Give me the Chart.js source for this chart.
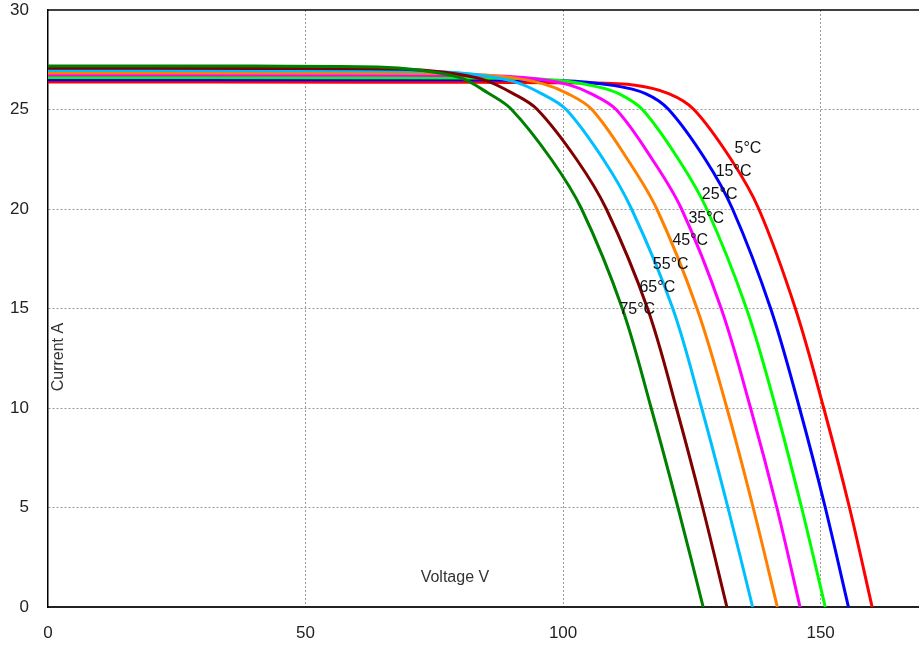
<!DOCTYPE html>
<html>
<head>
<meta charset="utf-8">
<script src="https://cdn.jsdelivr.net/npm/chart.js@4.4.1/dist/chart.umd.min.js"></script>
<style>
  body { margin: 0; background: #fff; }
  #wrap { width: 919px; height: 645px; }
</style>
</head>
<body>
<div id="wrap"><canvas id="chart"></canvas></div>
<script>
// I-V curves, one per module temperature
const temps = ["5°C", "15°C", "25°C", "35°C", "45°C", "55°C", "65°C", "75°C"];
const colors = ["#ff0000", "#0000ff", "#00ff00", "#ff00ff", "#ff8000", "#00bfff", "#800000", "#008000"];

const v05 = [0, 60, 105, 114, 120.5, 125.4, 132.6, 138.0, 145.1, 150.6, 155.6, 160.0];
const i05 = [26.38, 26.37, 26.33, 26.22, 25.8, 25.0, 22.5, 20, 15, 10, 5, 0];
const v15 = [0, 60, 100, 110, 116, 120.5, 127.6, 132.9, 140.3, 145.9, 150.9, 155.4];
const i15 = [26.50, 26.49, 26.45, 26.2, 25.8, 25.0, 22.5, 20, 15, 10, 5, 0];
const v25 = [0, 60, 93, 101, 106.5, 110.8, 115.4, 122.4, 127.9, 135.6, 141.3, 146.3, 150.9];
const i25 = [26.61, 26.60, 26.56, 26.41, 26.15, 25.8, 25.0, 22.5, 20, 15, 10, 5, 0];
const v35 = [0, 55, 87, 95, 101, 105.4, 110.3, 117.3, 123.0, 130.7, 136.4, 141.5, 146.0];
const i35 = [26.73, 26.72, 26.68, 26.53, 26.25, 25.8, 25.0, 22.5, 20, 15, 10, 5, 0];
const v45 = [0, 50, 81, 89, 96, 100.9, 105.6, 112.5, 118.2, 126.0, 131.8, 136.9, 141.6];
const i45 = [26.84, 26.83, 26.79, 26.64, 26.3, 25.8, 25.0, 22.5, 20, 15, 10, 5, 0];
const v55 = [0, 45, 75, 83, 90.5, 95.8, 100.6, 107.8, 113.3, 121.3, 126.9, 132.0, 136.8];
const i55 = [26.96, 26.95, 26.91, 26.76, 26.4, 25.8, 25.0, 22.5, 20, 15, 10, 5, 0];
const v65 = [0, 40, 69, 77, 84.5, 90.3, 95.0, 102.6, 108.4, 116.4, 122.0, 127.1, 131.8];
const i65 = [27.07, 27.06, 27.02, 26.87, 26.5, 25.8, 25.0, 22.5, 20, 15, 10, 5, 0];
const v75 = [0, 40, 64, 72, 80, 85.6, 90.0, 97.7, 103.6, 111.5, 117.1, 122.3, 127.2];
const i75 = [27.19, 27.18, 27.14, 26.98, 26.6, 25.8, 25.0, 22.5, 20, 15, 10, 5, 0];

const voltSets = [v05, v15, v25, v35, v45, v55, v65, v75];
const ampSets = [i05, i15, i25, i35, i45, i55, i65, i75];

// where each temperature label sits (volts, amps)
const labelV = [135.9, 133.1, 130.4, 127.8, 124.7, 120.9, 118.3, 114.4];
const labelI = [23.05, 21.87, 20.70, 19.5, 18.41, 17.19, 16.07, 14.93];

const xTicks = [0, 50, 100, 150];
const xMax = 169.1;
const yMax = 30;

const FONT = "'Liberation Sans', Arial, sans-serif";

const datasets = temps.map((t, k) => ({
  label: t,
  data: voltSets[k].map((v, j) => ({ x: v, y: ampSets[k][j] })),
  borderColor: colors[k],
  borderWidth: 3,
  pointRadius: 0,
  tension: 0.35,
  order: temps.length - k,
}));

const textPlugin = {
  id: "texts",
  afterDatasetsDraw(chart) {
    const { ctx, chartArea, scales } = chart;
    const x = scales.x, y = scales.y;
    ctx.save();
    // top border
    ctx.strokeStyle = "#000";
    ctx.lineWidth = 1.5;
    ctx.beginPath();
    ctx.moveTo(chartArea.left, chartArea.top);
    ctx.lineTo(chartArea.right, chartArea.top);
    ctx.stroke();

    ctx.fillStyle = "#111";
    ctx.font = "16px " + FONT;
    ctx.textAlign = "center";
    ctx.textBaseline = "middle";
    temps.forEach((t, k) => {
      ctx.fillText(t, x.getPixelForValue(labelV[k]), y.getPixelForValue(labelI[k]));
    });

    ctx.fillStyle = "#333";
    ctx.fillText("Voltage V", x.getPixelForValue(79.0), y.getPixelForValue(1.46));
    ctx.translate(x.getPixelForValue(2.1), y.getPixelForValue(12.56));
    ctx.rotate(-Math.PI / 2);
    ctx.fillText("Current A", 0, 0);
    ctx.restore();
  },
};

new Chart(document.getElementById("chart"), {
  type: "line",
  data: { datasets: datasets },
  options: {
    responsive: true,
    maintainAspectRatio: false,
    animation: false,
    layout: { padding: { top: 10, right: 0, left: 0, bottom: 0 } },
    plugins: {
      legend: { display: false },
      tooltip: { enabled: false },
    },
    scales: {
      x: {
        type: "linear",
        min: 0,
        max: xMax,
        afterBuildTicks: (axis) => {
          axis.ticks = xTicks.map((v) => ({ value: v }));
        },
        afterFit: (axis) => {
          axis.height = 38;
          axis.paddingLeft = 0;
          axis.paddingRight = 0;
        },
        grid: {
          drawTicks: false,
          color: (c) => (c.tick && c.tick.value === 0 ? "rgba(0,0,0,0)" : "#9a9a9a"),
          lineWidth: 1,
        },
        border: { display: true, color: "#222", width: 2, dash: [2, 2] },
        ticks: {
          padding: 16,
          color: "#222",
          font: { size: 17, family: FONT },
          maxRotation: 0,
        },
      },
      y: {
        type: "linear",
        min: 0,
        max: yMax,
        afterFit: (axis) => {
          axis.width = 48;
          axis.paddingTop = 0;
          axis.paddingBottom = 0;
        },
        grid: {
          drawTicks: false,
          color: (c) =>
            c.tick && (c.tick.value === 0 || c.tick.value === yMax) ? "rgba(0,0,0,0)" : "#9a9a9a",
          lineWidth: 1,
        },
        border: { display: true, color: "#000", width: 1.5, dash: [2, 2] },
        ticks: {
          stepSize: 5,
          padding: 19,
          color: "#222",
          font: { size: 17, family: FONT },
        },
      },
    },
  },
  plugins: [textPlugin],
});
</script>
</body>
</html>
